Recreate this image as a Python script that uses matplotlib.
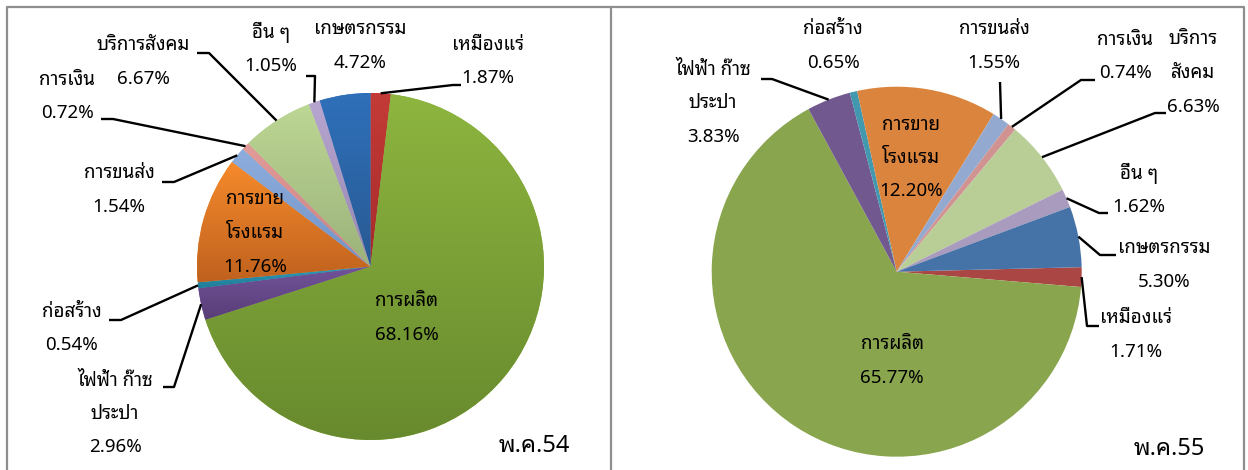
import numpy as np
import matplotlib
matplotlib.use("Agg")
import matplotlib.pyplot as plt
from matplotlib import font_manager as fm
from matplotlib.ft2font import FT2Font
from matplotlib.colors import to_rgb

# ---------------- data ----------------
sectors = ['เหมืองแร่', 'การผลิต', 'ไฟฟ้า ก๊าซ ประปา', 'ก่อสร้าง', 'การขาย โรงแรม',
           'การขนส่ง', 'การเงิน', 'บริการสังคม', 'อื่น ๆ', 'เกษตรกรรม']
share_54 = [1.87, 68.16, 2.96, 0.54, 11.76, 1.54, 0.72, 6.67, 1.05, 4.72]
share_55 = [1.71, 65.77, 3.83, 0.65, 12.20, 1.55, 0.74, 6.63, 1.62, 5.30]
labels_54 = ['เหมืองแร่', 'การผลิต', 'ไฟฟ้า ก๊าซ\nประปา', 'ก่อสร้าง', 'การขาย\nโรงแรม',
             'การขนส่ง', 'การเงิน', 'บริการสังคม', 'อื่น ๆ', 'เกษตรกรรม']
labels_55 = ['เหมืองแร่', 'การผลิต', 'ไฟฟ้า ก๊าซ\nประปา', 'ก่อสร้าง', 'การขาย\nโรงแรม',
             'การขนส่ง', 'การเงิน', 'บริการ\nสังคม', 'อื่น ๆ', 'เกษตรกรรม']
title_54 = 'พ.ค.54'
title_55 = 'พ.ค.55'

# ---------------- font ----------------
def find_thai_font():
    prefs = ['tahoma', 'noto sans thai', 'loma', 'garuda', 'sarabun', 'kinnari', 'norasi', 'waree', 'umpush']
    found = []
    for f in fm.fontManager.ttflist:
        try:
            ft = FT2Font(f.fname)
            if ft.get_char_index(ord('ก')) and ft.get_char_index(ord('5')):
                found.append(f)
        except Exception:
            pass
    if not found:
        return None
    def score(f):
        n = f.name.lower()
        for i, p in enumerate(prefs):
            if p in n:
                return i
        return len(prefs)
    found.sort(key=score)
    return found[0].name

thai = find_thai_font()
fams = ([thai] if thai else []) + ['DejaVu Sans']
plt.rcParams['font.family'] = fams

# ---------------- styling ----------------
W, H = 1248, 470
fig = plt.figure(figsize=(W / 100, H / 100), dpi=100)
ax = fig.add_axes([0, 0, 1, 1])
ax.set_axis_off()

def Y(y):
    return H - y

grad_54 = [('#C43B37', '#A52B2B'), ('#8DB53F', '#688A2E'), ('#72549A', '#583D77'),
           ('#2E9CBB', '#1F7C96'), ('#F68B2C', '#BF611E'), ('#8DAEDD', '#7393C6'),
           ('#E29C9A', '#C98080'), ('#BDD795', '#9BB27A'), ('#B7A7D0', '#9686B0'),
           ('#2F70BA', '#285A93')]
flat_55 = ['#AA4643', '#89A54E', '#71588F', '#4198AF', '#DB843D', '#93A9CF',
           '#D19392', '#B9CD96', '#A99BBD', '#4572A7']

# label block centres (pixel coords) and leader elbows/ends
pos_54 = [(488, 61.5), (407, 318), (115, 414), (72, 328.5), (255, 233),
          (119, 190), (67, 96.5), (143, 62), (271, 49.5), (360, 46)]
lead_54 = [((453, 85), (461, 85)), None, ((174, 387), (163, 387)), ((121, 320), (109, 320)), None,
           ((174, 182), (162, 182)), ((113, 119), (101, 119)), ((209, 53), (197, 53)),
           ((315, 76), (306, 76)), None]
pos_55 = [(1136, 335), (892, 361), (713, 103), (833, 46), (911, 158),
          (994, 46), (1125, 56.5), (1193, 73), (1139, 190), (1164, 265)]
lead_55 = [((1087, 326), (1099, 326)), None, ((772, 79), (761, 79)), None, None,
           ((1000, 82), (1000, 82)), ((1081, 80), (1095, 80)), ((1155, 113), (1166, 113)),
           ((1099, 213), (1108, 213)), ((1100, 255), (1116, 255))]

FS = 13.5
LINE = 33.5

def draw_pie(vals, labels, center, radius, start, colors, grads, pos, leads, title, title_xy):
    cx, cy = center
    wedges, _ = ax.pie(vals, colors=colors, startangle=start, counterclock=False,
                       center=(cx, Y(cy)), radius=radius,
                       wedgeprops=dict(linewidth=0, antialiased=True), frame=True)
    if grads is not None:
        g = np.linspace(0, 1, 256)[:, None, None]
        for w, (ct, cb) in zip(wedges, grads):
            bb = w.get_path().get_extents()
            img = (1 - g) * np.array(to_rgb(ct)) + g * np.array(to_rgb(cb))
            im = ax.imshow(img, extent=(bb.x0, bb.x1, bb.y0, bb.y1), origin='upper',
                           aspect='auto', zorder=w.get_zorder() + 0.1, interpolation='bilinear')
            im.set_clip_path(w)
    for w, v, lab, (px, py), ld in zip(wedges, vals, labels, pos, leads):
        lines = lab.split('\n') + ['%.2f%%' % v]
        n = len(lines)
        for i, t in enumerate(lines):
            ax.text(px, Y(py + (i - (n - 1) / 2) * LINE), t, ha='center', va='center',
                    fontsize=FS, color='black', zorder=10)
        if ld is not None:
            mid = np.deg2rad((w.theta1 + w.theta2) / 2)
            sx = w.center[0] + w.r * np.cos(mid)
            sy = w.center[1] + w.r * np.sin(mid)
            (ex, ey), (fx, fy) = ld
            ax.plot([sx, ex, fx], [sy, Y(ey), Y(fy)], color='black', lw=1.7,
                    solid_capstyle='butt', zorder=9)
    ax.text(title_xy[0], Y(title_xy[1]), title, ha='center', va='center',
            fontsize=17, color='black', zorder=10)

draw_pie(share_54, labels_54, (370.5, 266.5), 173.5, 90, [c[0] for c in grad_54], grad_54,
         pos_54, lead_54, title_54, (534, 446))
draw_pie(share_55, labels_55, (896.7, 271.7), 185, 1.4, flat_55, None,
         pos_55, lead_55, title_55, (1169, 449))

# panel frames
fc = '#8E8E8E'
ax.plot([7, 7, 1244, 1244], [Y(480), Y(7), Y(7), Y(480)], color=fc, lw=1.6, zorder=1)
ax.plot([611, 611], [Y(480), Y(7)], color=fc, lw=1.6, zorder=1)

ax.set_xlim(0, W)
ax.set_ylim(0, H)
ax.set_aspect('auto')
ax.set_axis_off()
fig.savefig('out.png', dpi=100)
